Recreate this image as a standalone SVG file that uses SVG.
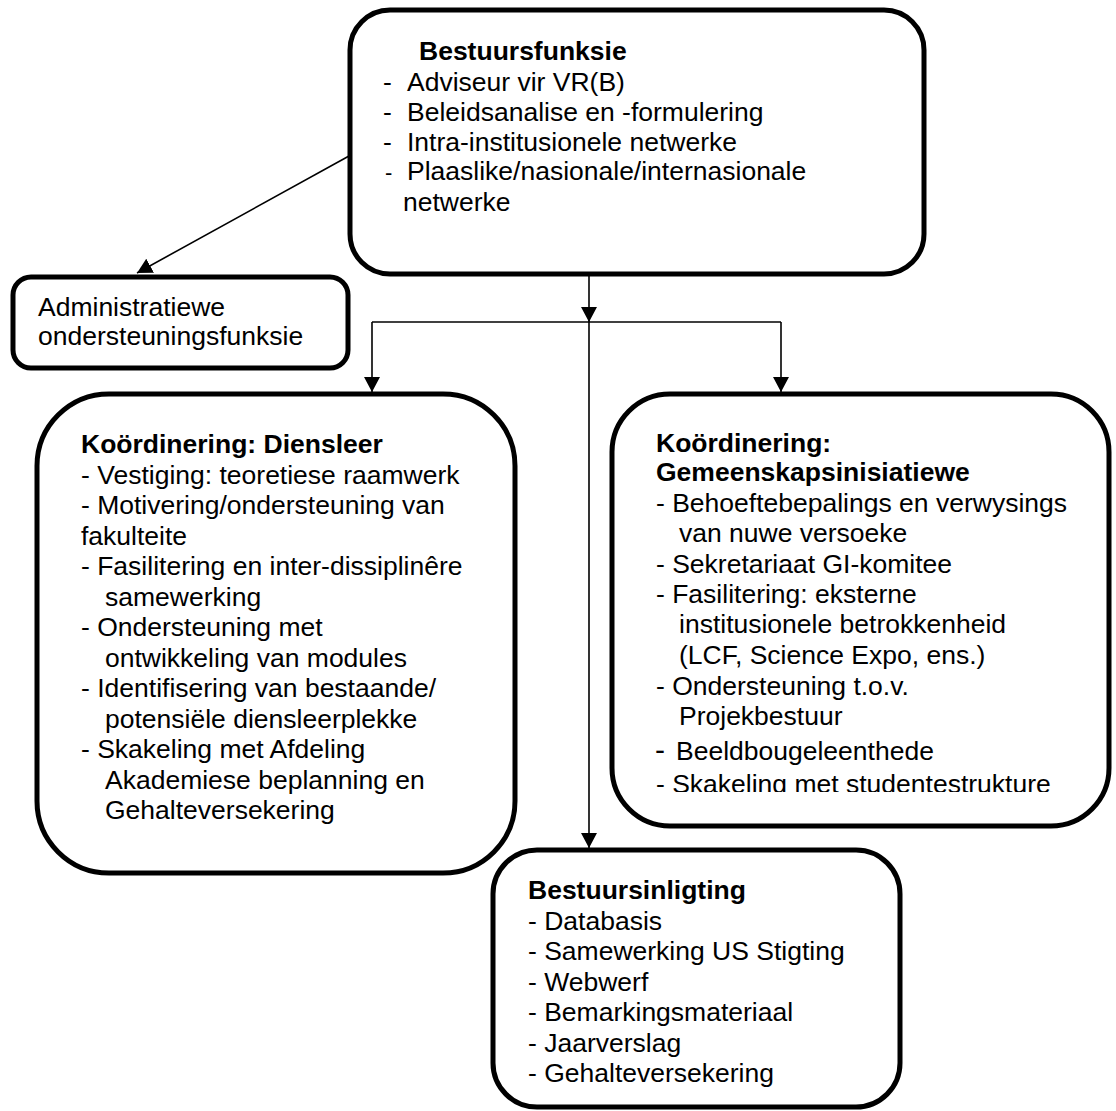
<svg xmlns="http://www.w3.org/2000/svg" width="1116" height="1111" viewBox="0 0 1116 1111">
<style>
.box{fill:#fff;stroke:#000;stroke-width:5}
.conn{fill:none;stroke:#000;stroke-width:1.6}
text{font-family:"Liberation Sans",Arial,sans-serif;font-size:26.5px;fill:#000}
.b{font-weight:bold}
</style>
<defs>
<marker id="arr" markerUnits="userSpaceOnUse" markerWidth="16" markerHeight="16" viewBox="0 0 16 16" refX="15" refY="8" orient="auto">
<path d="M0,0 L15,8 L0,16 Z" fill="#000"/>
</marker>
<clipPath id="clipR"><rect x="612" y="394" width="500" height="398"/></clipPath>
</defs>
<rect width="1116" height="1111" fill="#fff"/>

<g id="connectors">
<line class="conn" x1="349" y1="156" x2="137" y2="273" marker-end="url(#arr)"/>
<line class="conn" x1="589" y1="276" x2="589" y2="322" marker-end="url(#arr)"/>
<polyline class="conn" points="372,322 781,322"/>
<line class="conn" x1="372" y1="322" x2="372" y2="392" marker-end="url(#arr)"/>
<line class="conn" x1="781" y1="322" x2="781" y2="392" marker-end="url(#arr)"/>
<line class="conn" x1="589" y1="322" x2="589" y2="848" marker-end="url(#arr)"/>
</g>

<g id="bestuursfunksie">
<rect class="box" x="350" y="10" width="574" height="264" rx="40"/>
<text class="b" x="419" y="60">Bestuursfunksie</text>
<text y="91"><tspan x="383">-</tspan><tspan x="407">Adviseur vir VR(B)</tspan></text>
<text y="121"><tspan x="383">-</tspan><tspan x="407">Beleidsanalise en -formulering</tspan></text>
<text y="151"><tspan x="383">-</tspan><tspan x="407">Intra-institusionele netwerke</tspan></text>
<text y="180"><tspan x="385" font-size="22">-</tspan><tspan x="407">Plaaslike/nasionale/internasionale</tspan></text>
<text x="403" y="211">netwerke</text>
</g>

<g id="admin">
<rect class="box" x="13" y="277" width="335" height="91" rx="18"/>
<text x="38" y="316">Administratiewe</text>
<text x="38" y="345">ondersteuningsfunksie</text>
</g>

<g id="diensleer">
<rect class="box" x="37" y="394" width="478" height="479" rx="72"/>
<text class="b" x="81" y="453">Koördinering: Diensleer</text>
<text x="81" y="483.5">- Vestiging: teoretiese raamwerk</text>
<text x="81" y="514">- Motivering/ondersteuning van</text>
<text x="81" y="544.5">fakulteite</text>
<text x="81" y="575">- Fasilitering en inter-dissiplinêre</text>
<text x="105" y="605.5">samewerking</text>
<text x="81" y="636">- Ondersteuning met</text>
<text x="105" y="666.5">ontwikkeling van modules</text>
<text x="81" y="697">- Identifisering van bestaande/</text>
<text x="105" y="727.5">potensiële diensleerplekke</text>
<text x="81" y="758">- Skakeling met Afdeling</text>
<text x="105" y="788.5">Akademiese beplanning en</text>
<text x="105" y="819">Gehalteversekering</text>
</g>

<g id="gemeenskap">
<rect class="box" x="612" y="394" width="497" height="432" rx="58"/>
<g clip-path="url(#clipR)">
<text class="b" x="656" y="452">Koördinering:</text>
<text class="b" x="656" y="481">Gemeenskapsinisiatiewe</text>
<text x="656" y="512">- Behoeftebepalings en verwysings</text>
<text x="679" y="542">van nuwe versoeke</text>
<text x="656" y="573">- Sekretariaat GI-komitee</text>
<text x="656" y="603">- Fasilitering: eksterne</text>
<text x="679" y="633">institusionele betrokkenheid</text>
<text x="679" y="664">(LCF, Science Expo, ens.)</text>
<text x="656" y="695">- Ondersteuning t.o.v.</text>
<text x="679" y="725">Projekbestuur</text>
<text y="760"><tspan x="655" font-size="30">-</tspan><tspan x="676">Beeldbougeleenthede</tspan></text>
<text x="656" y="793">- Skakeling met studentestrukture</text>
</g>
</g>

<g id="bestuursinligting">
<rect class="box" x="493" y="850" width="407" height="257" rx="44"/>
<text class="b" x="528" y="899">Bestuursinligting</text>
<text x="528" y="929.5">- Databasis</text>
<text x="528" y="960">- Samewerking US Stigting</text>
<text x="528" y="990.5">- Webwerf</text>
<text x="528" y="1021">- Bemarkingsmateriaal</text>
<text x="528" y="1051.5">- Jaarverslag</text>
<text x="528" y="1082">- Gehalteversekering</text>
</g>
</svg>
